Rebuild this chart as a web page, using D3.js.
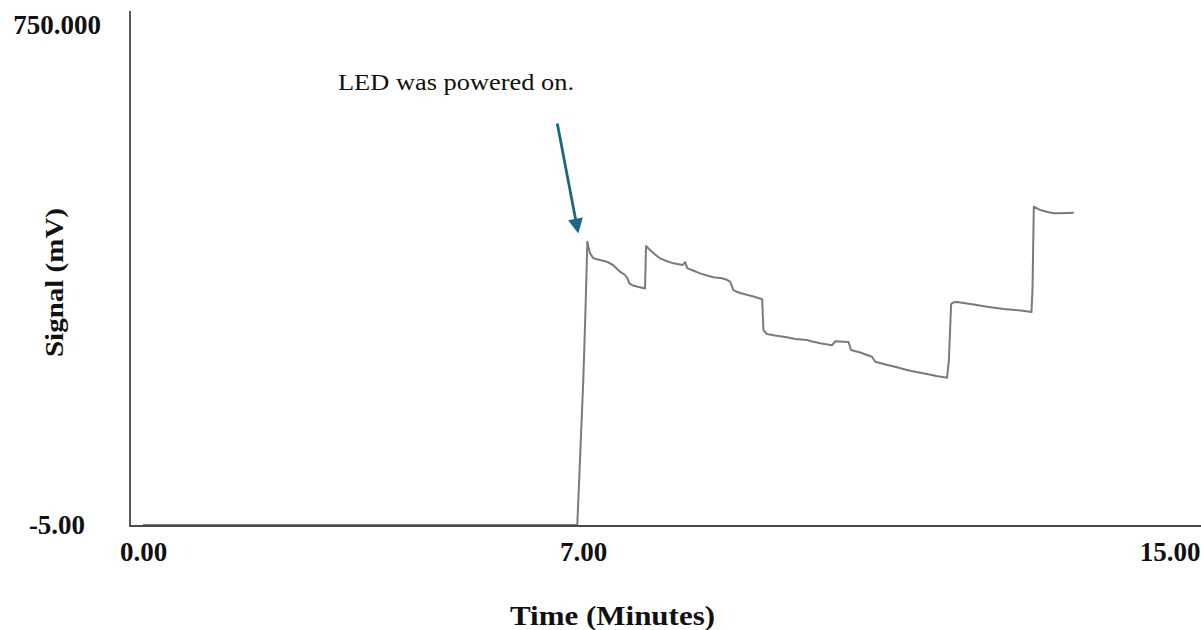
<!DOCTYPE html>
<html>
<head>
<meta charset="utf-8">
<script src="https://cdn.jsdelivr.net/npm/d3@7"></script>
<style>
  html, body { margin: 0; padding: 0; background: #ffffff; }
  svg { display: block; }
</style>
</head>
<body>
<svg id="chart" width="1201" height="630"></svg>
<script>
// ---- data (time in minutes, signal in mV) ----
const timeMin = [
  0, 6.909, 6.952, 7.004, 7.034, 7.059, 7.075, 7.096, 7.141, 7.232, 7.324, 7.410,
  7.505, 7.573, 7.605, 7.632, 7.683, 7.733, 7.833, 7.846, 7.860, 7.887, 7.915, 7.983,
  8.051, 8.147, 8.233, 8.361, 8.393, 8.424, 8.502, 8.597, 8.693, 8.779, 8.894, 8.952,
  9.007, 9.052, 9.089, 9.143, 9.325, 9.444, 9.461, 9.508, 9.621, 9.781, 9.894, 10.054,
  10.126, 10.236, 10.395, 10.441, 10.622, 10.655, 10.782, 10.942, 10.987, 11.124, 11.283, 11.420,
  11.547, 11.693, 11.820, 11.966, 11.991, 12.021, 12.056, 12.103, 12.284, 12.512, 12.739, 12.967,
  13.117, 13.131, 13.149, 13.186, 13.240, 13.336, 13.422, 13.514, 13.695
];
const signalMv = [
  -5, -5, 93.1, 213.9, 319.6, 422.8, 414.7, 405.2, 397.7, 395.1, 392.6, 387.6,
  377.5, 372.5, 367.9, 359.9, 356.6, 355.1, 352.4, 352.1, 416.3, 413.3, 410.2, 403.4,
  397.7, 393.2, 390.1, 387.6, 392.1, 382.6, 379.3, 375.0, 371.7, 369.0, 367.5, 365.7,
  362.4, 349.8, 347.6, 345.3, 340.0, 335.8, 289.4, 283.4, 281.1, 278.4, 275.8, 274.3,
  272.1, 269.4, 266.4, 272.4, 271.3, 259.2, 255.5, 249.1, 241.6, 237.3, 233.1, 229.0,
  226.0, 223.0, 220.0, 217.4, 244.1, 328.7, 331.3, 331.7, 328.7, 324.6, 321.1, 318.9,
  316.6, 349.8, 475.6, 473.6, 470.6, 467.6, 465.6, 465.6, 466.5
];
const xTickValues = [0, 7, 15];
const xTickLabels = ["0.00", "7.00", "15.00"];
const yTickValues = [-5, 750];
const yTickLabels = ["-5.00", "750.000"];
const annotationText = "LED was powered on.";
const annotationTime = 6.925;
const annotationSignal = 435;
const xTitle = "Time (Minutes)";
const yTitle = "Signal (mV)";

// ---- layout ----
const W = 1201, H = 630;
const plotLeft = 130, plotRight = 1201, plotTop = 11, plotBottom = 526;
const svg = d3.select("#chart");
svg.append("rect").attr("width", W).attr("height", H).attr("fill", "#ffffff");

// piecewise x scale so tick labels sit where the instrument printed them
const x = d3.scaleLinear().domain(xTickValues).range([143, 583, 1169.5]);
const y = d3.scaleLinear().domain([-5, 750]).range([525, 25]);

const serif = "'Liberation Serif', 'Times New Roman', Times, serif";

// trace
const pts = timeMin.map((t, i) => [t, signalMv[i]]);
const line = d3.line().x(d => x(d[0])).y(d => y(d[1]));
svg.append("path")
  .datum(pts)
  .attr("d", line)
  .attr("fill", "none")
  .attr("stroke", "#7a7a7a")
  .attr("stroke-width", 2)
  .attr("stroke-linejoin", "round");

// axes lines
svg.append("line")
  .attr("x1", plotLeft).attr("x2", plotLeft)
  .attr("y1", plotTop).attr("y2", plotBottom + 1)
  .attr("stroke", "#5a5a5a").attr("stroke-width", 2);
svg.append("line")
  .attr("x1", plotLeft).attr("x2", plotRight)
  .attr("y1", plotBottom).attr("y2", plotBottom)
  .attr("stroke", "#4a4a4a").attr("stroke-width", 2);

// x tick labels via axis
const xAxis = d3.axisBottom(x)
  .tickValues(xTickValues)
  .tickFormat((d, i) => xTickLabels[i])
  .tickSize(0)
  .tickPadding(0);
const gx = svg.append("g").attr("transform", "translate(0,561)").call(xAxis);
gx.select(".domain").remove();
gx.selectAll("text")
  .attr("dy", 0)
  .attr("y", 0)
  .attr("font-family", serif)
  .attr("font-weight", "bold")
  .attr("font-size", 27)
  .attr("fill", "#111");

// y tick labels
svg.append("g").selectAll("text")
  .data(yTickValues)
  .join("text")
  .attr("x", 57)
  .attr("y", d => y(d) + 9)
  .attr("text-anchor", "middle")
  .attr("font-family", serif)
  .attr("font-weight", "bold")
  .attr("font-size", 27)
  .attr("fill", "#111")
  .text((d, i) => yTickLabels[i]);

// axis titles
svg.append("text")
  .attr("x", 612.5).attr("y", 625)
  .attr("text-anchor", "middle")
  .attr("font-family", serif)
  .attr("font-weight", "bold")
  .attr("font-size", 27)
  .attr("textLength", 205)
  .attr("lengthAdjust", "spacingAndGlyphs")
  .attr("fill", "#111")
  .text(xTitle);
svg.append("text")
  .attr("transform", "translate(63,282.5) rotate(-90)")
  .attr("text-anchor", "middle")
  .attr("font-family", serif)
  .attr("font-weight", "bold")
  .attr("font-size", 26)
  .attr("textLength", 149)
  .attr("lengthAdjust", "spacingAndGlyphs")
  .attr("fill", "#111")
  .text(yTitle);

// annotation
const tipX = x(annotationTime), tipY = y(annotationSignal);
const startX = tipX - 21, startY = tipY - 110;
const dx = tipX - startX, dy = tipY - startY, len = Math.hypot(dx, dy);
const ux = dx / len, uy = dy / len, px = -uy, py = ux;
const headLen = 15, headHalf = 7.5;
const bx = tipX - ux * headLen, by = tipY - uy * headLen;
const arrowColor = "#1d6684";
svg.append("line")
  .attr("x1", startX).attr("y1", startY)
  .attr("x2", bx + ux * 2).attr("y2", by + uy * 2)
  .attr("stroke", arrowColor).attr("stroke-width", 2.8);
svg.append("path")
  .attr("d", `M${tipX},${tipY}L${bx + px * headHalf},${by + py * headHalf}L${bx - px * headHalf},${by - py * headHalf}Z`)
  .attr("fill", arrowColor);
svg.append("text")
  .attr("x", 338).attr("y", 89.5)
  .attr("font-family", serif)
  .attr("font-size", 23)
  .attr("textLength", 236)
  .attr("lengthAdjust", "spacingAndGlyphs")
  .attr("fill", "#111")
  .text(annotationText);
</script>
</body>
</html>
